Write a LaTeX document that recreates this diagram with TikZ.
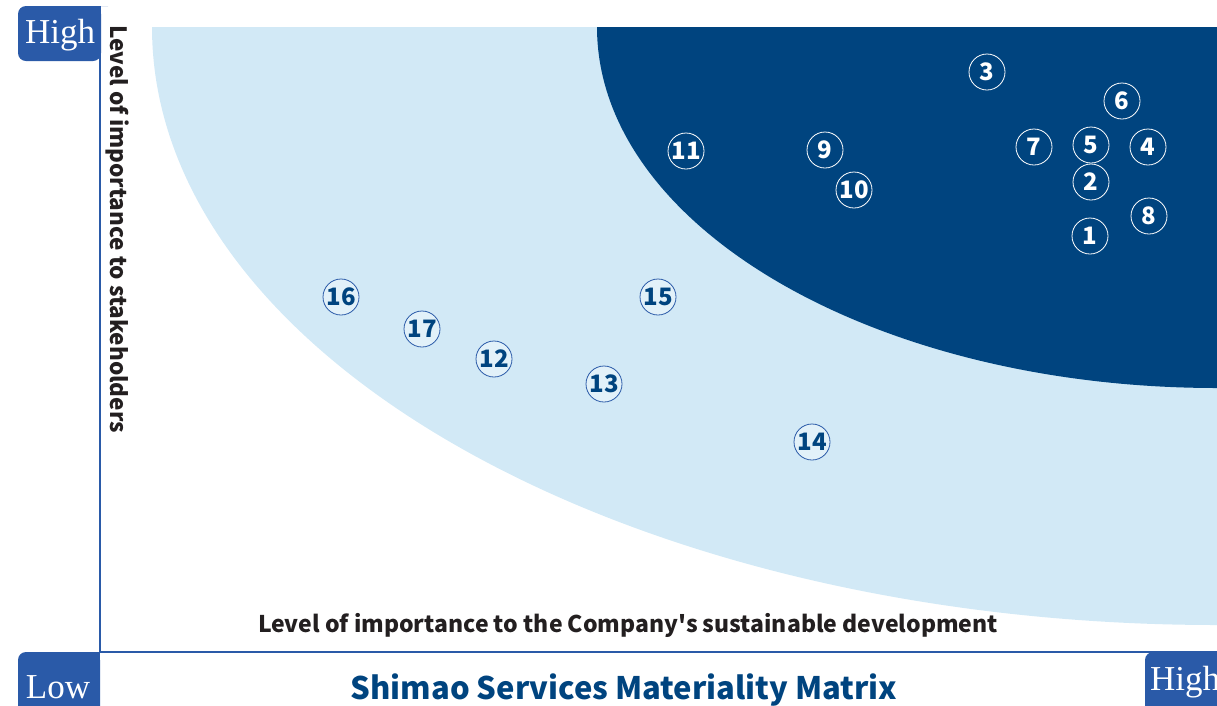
\documentclass[tikz,border=0pt]{standalone}
\usepackage{fontspec}
\newfontfamily\srcsans{Noto Sans CJK SC}
\newfontfamily\serifhl{Liberation Serif}
\definecolor{axisblue}{HTML}{2A5AA8}
\definecolor{darkblue}{HTML}{00447F}
\definecolor{lightblue}{HTML}{D2E9F6}
\definecolor{labelgray}{HTML}{231F20}
\tikzset{
  darkpt/.style={circle, draw=white, line width=0.8pt, minimum size=36pt, inner sep=0pt,
    text=white, font=\srcsans\bfseries\fontsize{24}{24}\selectfont},
  lightpt/.style={circle, draw=axisblue, fill=white!35!lightblue, line width=0.8pt, minimum size=36pt, inner sep=0pt,
    text=darkblue, font=\srcsans\bfseries\fontsize{24}{24}\selectfont},
  levelbox/.style={fill=axisblue},
  leveltext/.style={text=white, font=\serifhl\fontsize{35}{35}\selectfont, inner sep=0pt},
  axislabel/.style={text=labelgray, font=\srcsans\bfseries\fontsize{23}{23}\selectfont, inner sep=0pt}
}
\begin{document}
\begin{tikzpicture}[x=1pt,y=-1pt]
\useasboundingbox (0,0) rectangle (1217,705);
\clip (0,0) rectangle (1217,705);
% regions
\begin{scope}
\clip (0,27) rectangle (1217,705);
\fill[lightblue] (1217,27) ellipse [x radius=1065, y radius=598];
\fill[darkblue] (1217,27) ellipse [x radius=620, y radius=361];
\end{scope}
% axes
\draw[axisblue, line width=2pt] (100,6) -- (100,652) -- (1217,652);
% level boxes
\fill[levelbox, rounded corners=8pt] (100,6) -- (18,6) -- (18,61) -- (101,61) -- (101,6) -- cycle;
\fill[levelbox] (90,6) rectangle (101,20);
\node[leveltext] (hightop) at (60,35) {High};
\fill[levelbox, rounded corners=8pt] (100,652) -- (18,652) -- (18,720) -- (100,720) -- cycle;
\fill[levelbox] (88,652) rectangle (100,665);
\node[leveltext] (low) at (58,687) {Low};
\fill[levelbox, rounded corners=8pt] (1217,652) -- (1145,652) -- (1145,720) -- (1240,720) -- (1240,652) -- cycle;
\node[leveltext, anchor=west] (highright) at (1150,682) {High};
% labels
\node[axislabel, rotate=-90, font=\srcsans\bfseries\fontsize{22.5}{22.5}\selectfont] (ylabel) at (118,229) {Level of importance to stakeholders};
\node[axislabel] (xlabel) at (628,625) {Level of importance to the Company's sustainable development};
\node[text=darkblue, font=\srcsans\bfseries\fontsize{31}{31}\selectfont, inner sep=0pt] (title) at (624,690) {Shimao Services Materiality Matrix};
% points
\node[darkpt] (p3) at (987,72) {3};
\node[darkpt] (p6) at (1122,101) {6};
\node[darkpt] (p7) at (1034,147) {7};
\node[darkpt] (p5) at (1091,145) {5};
\node[darkpt] (p4) at (1148,147) {4};
\node[darkpt] (p2) at (1091,182) {2};
\node[darkpt] (p8) at (1149,216) {8};
\node[darkpt] (p1) at (1090,236) {1};
\node[darkpt] (p11) at (686,151) {11};
\node[darkpt] (p9) at (825,150) {9};
\node[darkpt] (p10) at (854,190) {10};
\node[lightpt] (p16) at (341,297) {16};
\node[lightpt] (p17) at (422,329) {17};
\node[lightpt] (p12) at (494,359) {12};
\node[lightpt] (p13) at (604,384) {13};
\node[lightpt] (p15) at (658,297) {15};
\node[lightpt] (p14) at (812,442) {14};
\end{tikzpicture}
\end{document}
